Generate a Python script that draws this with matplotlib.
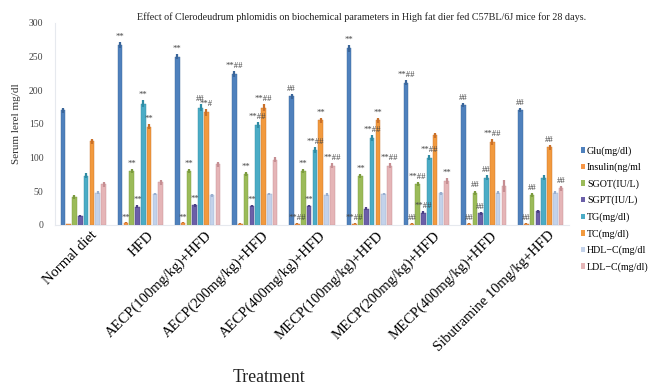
import numpy as np
import matplotlib
matplotlib.use("Agg")
import matplotlib.pyplot as plt
import matplotlib.transforms as mtransforms
from matplotlib.patches import Patch

plt.rcParams['font.family'] = ['Liberation Serif', 'DejaVu Serif']

groups = ["Normal diet", "HFD", "AECP(100mg/kg)+HFD", "AECP(200mg/kg)+HFD",
          "AECP(400mg/kg)+HFD", "MECP(100mg/kg)+HFD", "MECP(200mg/kg)+HFD",
          "MECP(400mg/kg)+HFD", "Sibutramine 10mg/kg+HFD"]

series = ["Glu(mg/dl)", "Insulin(ng/ml", "SGOT(IU/L)", "SGPT(IU/L)",
          "TG(mg/dl)", "TC(mg/dl)", "HDL\u2212C(mg/dl", "LDL\u2212C(mg/dl)"]

glu     = [170, 267, 250, 224, 191, 262, 211, 178, 171]
insulin = [1, 3, 3, 2, 2, 2, 2, 2, 2]
sgot    = [42, 80, 80, 76, 80, 72, 60, 48, 45]
sgpt    = [13, 27, 29, 28, 28, 24, 18, 17, 20]
tg      = [73, 180, 174, 148, 111, 129, 100, 70, 70]
tc      = [124, 146, 167, 174, 155, 155, 133, 123, 115]
hdl     = [48, 46, 44, 46, 45, 46, 47, 48, 48]
ldl     = [60, 63, 90, 97, 88, 88, 65, 58, 54]

glu_err     = [4, 5, 4, 4, 4, 5, 4, 3, 3]
insulin_err = [0.3, 0.5, 0.5, 0.4, 0.4, 0.4, 0.4, 0.4, 0.4]
sgot_err    = [3, 3, 3, 3, 3, 3, 3, 3, 3]
sgpt_err    = [2, 2, 2, 2, 2, 2, 2, 2, 2]
tg_err      = [4, 5, 5, 4, 4, 4, 4, 4, 4]
tc_err      = [4, 4, 5, 5, 4, 4, 4, 4, 4]
hdl_err     = [2, 2, 2, 2, 2, 2, 2, 2, 2]
ldl_err     = [4, 4, 4, 4, 4, 4, 4, 9, 3]

# significance marks above each bar
glu_sig     = ["", "**", "**", "**##", "##", "**", "**##", "##", "##"]
insulin_sig = ["", "**", "**", "", "**##", "**##", "##", "##", "##"]
sgot_sig    = ["", "**", "**", "**", "**", "**", "**##", "##", "##"]
sgpt_sig    = ["", "**", "**", "**", "**", "", "**##", "##", ""]
tg_sig      = ["", "**", "##", "**##", "**##", "**##", "**##", "##", ""]
tc_sig      = ["", "**", "**#", "**##", "**", "**", "", "**##", "##"]
hdl_sig     = ["", "", "", "", "", "", "", "", ""]
ldl_sig     = ["", "", "", "", "**##", "**##", "**", "", "##"]

values = [glu, insulin, sgot, sgpt, tg, tc, hdl, ldl]
errors = [glu_err, insulin_err, sgot_err, sgpt_err, tg_err, tc_err, hdl_err, ldl_err]
marks = [glu_sig, insulin_sig, sgot_sig, sgpt_sig, tg_sig, tc_sig, hdl_sig, ldl_sig]
colors = ["#4F81BD", "#F79646", "#9BBB59", "#6B5FA8", "#4BACC6",
          "#F29A3E", "#C3D2EA", "#E5B5B7"]
caps = ["#3A6599", "#C9702A", "#7A9A3E", "#4A3F85", "#2F8BA3",
        "#C9702A", "#9AAFCF", "#C58E92"]

fig = plt.figure(figsize=(6.5, 3.87), dpi=100)
ax = fig.add_axes([0.084, 0.419, 0.792, 0.522])

x = np.arange(len(groups))
step = 0.1014
width = 0.08
for j, (vals, errs, sig) in enumerate(zip(values, errors, marks)):
    xs = x + (j - 3.5) * step
    ax.bar(xs, vals, width, color=colors[j], edgecolor=caps[j], linewidth=0.3, zorder=2)
    ax.errorbar(xs, vals, yerr=errs, fmt="none", ecolor=caps[j], elinewidth=1.6,
                capsize=0, zorder=3)
    for xi, v, e, s in zip(xs, vals, errs, sig):
        if s:
            ax.text(xi, v + e + 1.5, s, ha="center", va="bottom", fontsize=6.2,
                    color="#444444", zorder=4)

ax.set_xlim(-0.5, 8.5)
ax.set_ylim(0, 300)
ax.set_yticks(range(0, 301, 50))
ax.tick_params(axis="y", labelsize=7, length=0, colors="#444444", pad=8)
ax.set_xticks(x)
ax.set_xticklabels(groups, rotation=45, ha="right", rotation_mode="anchor", fontsize=10.5)
ax.tick_params(axis="x", length=0, pad=3)
shift = mtransforms.ScaledTranslation(0.07, 0, fig.dpi_scale_trans)
for lbl in ax.get_xticklabels():
    lbl.set_transform(lbl.get_transform() + shift)
for side in ["top", "right"]:
    ax.spines[side].set_visible(False)
for side in ["left", "bottom"]:
    ax.spines[side].set_color("#e6e9ee")
ax.set_ylabel("Serum lerel mg/dl", fontsize=8, color="#333333", labelpad=6)

fig.text(0.557, 0.955, "Effect of Clerodeudrum phlomidis on biochemical parameters in High fat dier fed C57BL/6J mice for 28 days.",
         ha="center", va="center", fontsize=7.3, color="#222222")
fig.text(0.414, 0.003, "Treatment", ha="center", va="bottom", fontsize=12.8, color="#222222")

handles = [Patch(facecolor=c, edgecolor="none") for c in colors]
fig.legend(handles, series, loc="upper left", bbox_to_anchor=(0.887, 0.633),
           frameon=False, fontsize=7.2, handlelength=0.45, handleheight=0.45,
           handletextpad=0.2, labelspacing=0.7, borderaxespad=0)

fig.savefig("out.png", dpi=100)
